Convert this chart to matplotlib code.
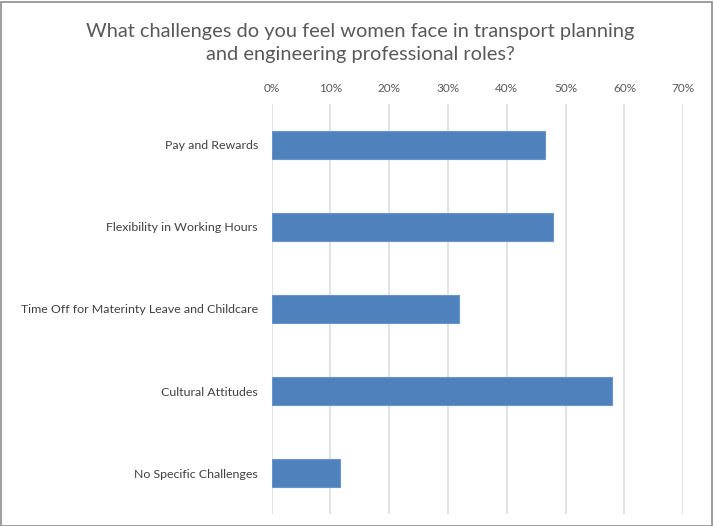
import matplotlib.pyplot as plt
from matplotlib.patches import Rectangle
from matplotlib.ticker import PercentFormatter

categories = ["Pay and Rewards", "Flexibility in Working Hours",
              "Time Off for Materinty Leave and Childcare",
              "Cultural Attitudes", "No Specific Challenges"]
values = [0.464, 0.479, 0.318, 0.579, 0.116]
ticks = [0, 0.1, 0.2, 0.3, 0.4, 0.5, 0.6, 0.7]

plt.rcParams['font.family'] = ['Lato', 'DejaVu Sans']

fig = plt.figure(figsize=(7.14, 5.26), dpi=100)
ax = fig.add_axes([0.3805, 0.0228, 0.5765, 0.7795])

pos = list(range(len(categories)))
ax.barh(pos, values, height=0.35, color='#4F81BD', edgecolor='#6A95CC', linewidth=0.8, zorder=3)
ax.set_ylim(len(categories) - 0.5, -0.5)
ax.set_xlim(0, 0.7)
ax.set_yticks(pos)
ax.set_yticklabels(categories, fontsize=8.9, color='#404040')
ax.set_xticks(ticks)
ax.xaxis.set_major_formatter(PercentFormatter(1.0, decimals=0))
ax.xaxis.tick_top()
ax.tick_params(axis='x', labelsize=8.5, labelcolor='#595959', length=0, pad=7)
ax.tick_params(axis='y', length=0, pad=10)
ax.grid(axis='x', color='#E3E3E3', linewidth=1.4, zorder=0)
for s in ax.spines.values():
    s.set_visible(False)

fig.text(0.505, 0.918, "What challenges do you feel women face in transport planning\nand engineering professional roles?",
         ha='center', va='center', fontsize=14.4, color='#595959', linespacing=1.38)

fig.patches.append(Rectangle((0.002, 0.0), 0.995, 0.997, transform=fig.transFigure,
                             fill=False, edgecolor='#8C8C8C', linewidth=1.2))

fig.savefig('out.png', dpi=100)
